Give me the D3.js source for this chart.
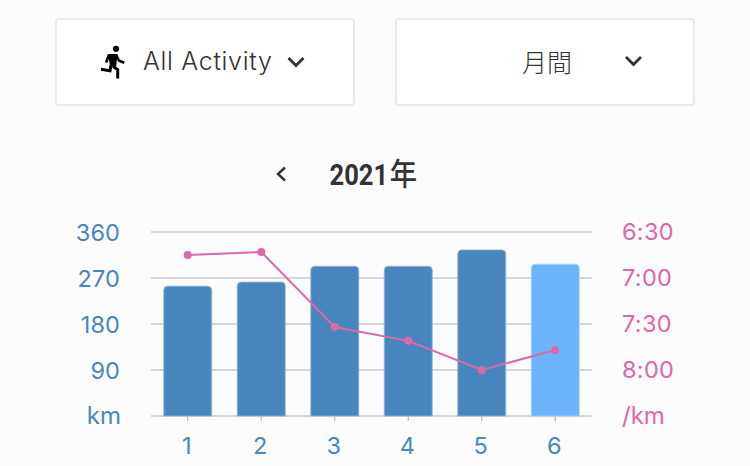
<!DOCTYPE html>
<html><head><meta charset="utf-8">
<script src="https://cdn.jsdelivr.net/npm/d3@7"></script>
<style>
html,body{margin:0;padding:0;background:#fcfcfc;overflow:hidden}
svg{display:block}
text{font-family:Inter,"Noto Sans CJK JP",sans-serif}
</style></head><body>
<svg id="c" width="750" height="466"></svg>
<script>
const months = ["1","2","3","4","5","6"];
const distance = [254, 262, 293, 293, 325, 297];
const pace = ["6:45","6:43","7:32","7:41","8:00","7:47"];
const distanceTicks = [90,180,270,360];
const paceTicks = ["6:30","7:00","7:30","8:00"];
const highlightMonth = "6";
const yearLabel = "2021";
const yearSuffix = "年";
const activityLabel = "All Activity";
const periodLabel = "月間";
const distanceUnit = "km";
const paceUnit = "/km";

const toSec = s => { const [m,x] = s.split(":").map(Number); return m*60+x; };
const svg = d3.select("#c");
const BLUE="#4886bf", LIGHT="#6cb4fa", PINK="#de66aa", DARK="#333333";

// dropdown buttons
function button(x,w){
  svg.append("rect").attr("x",x).attr("y",19).attr("width",w).attr("height",86)
    .attr("rx",3).attr("fill","#fff").attr("stroke","#ebebeb").attr("stroke-width",2);
}
function chevron(cx,cy){
  svg.append("path").attr("d",`M${cx-7.5},${cy-4}L${cx},${cy+3.5}L${cx+7.5},${cy-4}`)
    .attr("fill","none").attr("stroke",DARK).attr("stroke-width",2.8);
}
button(56,298); button(396,298);
chevron(296,62); chevron(633.5,61);
svg.append("text").attr("x",143).attr("y",70).attr("font-size",25).attr("letter-spacing",0.7)
  .attr("fill",DARK).attr("font-weight",300).text(activityLabel);
svg.append("text").attr("x",522).attr("y",72).attr("font-size",25)
  .attr("fill",DARK).attr("font-weight",300).attr("style",'font-family:"Noto Sans CJK JP"').text(periodLabel);

// runner icon
const run = svg.append("g");
run.append("circle").attr("cx",116).attr("cy",48.8).attr("r",3.1).attr("fill","#000");
run.append("path").attr("fill","#000").attr("d","M108,54L117.5,54L116,68L110,66Z");
run.append("path").attr("fill","none").attr("stroke","#000").attr("stroke-width",2.6)
  .attr("d","M108.8,55L106.2,62.5");
run.append("path").attr("fill","none").attr("stroke","#000").attr("stroke-width",2.6)
  .attr("d","M116.2,55L119,60.7L124.3,62.7");
run.append("path").attr("fill","none").attr("stroke","#000").attr("stroke-width",3)
  .attr("d","M111,65L110,70.8L101,69.3");
run.append("path").attr("fill","none").attr("stroke","#000").attr("stroke-width",3)
  .attr("d","M113,66.5L117.7,69.5L117.7,78.5");

// title row
svg.append("path").attr("d","M285,167.5L278,174L285,180.5").attr("fill","none").attr("stroke",DARK).attr("stroke-width",2.4);
const t = svg.append("text").attr("transform","translate(329.5,185) scale(0.88,1)")
  .attr("font-size",29).attr("font-weight",700).attr("fill",DARK);
t.append("tspan").attr("style","font-family:Roboto").text(yearLabel);
t.append("tspan").attr("dx",2).attr("style",'font-family:"Noto Sans CJK JP"').attr("font-weight",500).attr("font-size",31).text(yearSuffix);

// scales
const x = d3.scaleBand().domain(months).range([151,592]).paddingInner(0.347).paddingOuter(0.1735);
const yD = d3.scaleLinear().domain([0,360]).range([416,232]);
const yP = d3.scaleLinear().domain([toSec("6:30"),toSec("8:30")]).range([232,416]);
const cx = m => x(m)+x.bandwidth()/2;

// grid
svg.append("g").selectAll("line").data([0,...distanceTicks]).join("line")
  .attr("x1",151).attr("x2",592).attr("y1",d=>yD(d)).attr("y2",d=>yD(d))
  .attr("stroke","#d6d6d6").attr("stroke-width",2);

// left axis
const aL = d3.axisLeft(yD).tickValues(distanceTicks).tickSize(0).tickPadding(0);
const gL = svg.append("g").attr("transform","translate(120,0)").call(aL);
gL.select(".domain").remove();
gL.selectAll("text").attr("font-size",23.5).attr("fill",BLUE).attr("font-weight",400)
  .style("font-family","Inter").attr("dy","0.36em").attr("letter-spacing",0.1);
svg.append("text").attr("x",121).attr("y",424).attr("text-anchor","end").attr("font-size",24)
  .attr("fill",BLUE).attr("font-weight",400).text(distanceUnit);

// right axis
const aR = d3.axisRight(yP).tickValues(paceTicks.map(toSec)).tickSize(0).tickPadding(0)
  .tickFormat((d,i)=>paceTicks[i]);
const gR = svg.append("g").attr("transform","translate(622,0)").call(aR);
gR.select(".domain").remove();
gR.selectAll("text").attr("font-size",23.5).attr("fill",PINK).attr("font-weight",400)
  .style("font-family","Inter").attr("dy","0.33em").attr("letter-spacing",0.3);
svg.append("text").attr("x",622).attr("y",424).attr("font-size",24)
  .attr("fill",PINK).attr("font-weight",400).text(paceUnit);

// bars
const rad=4;
svg.append("g").selectAll("path").data(months).join("path")
  .attr("d",(m,i)=>{
    const l=x(m), r=l+x.bandwidth(), t=yD(distance[i]), b=yD(0);
    return `M${l},${b}V${t+rad}Q${l},${t} ${l+rad},${t}H${r-rad}Q${r},${t} ${r},${t+rad}V${b}Z`;
  })
  .attr("fill",m=>m===highlightMonth?LIGHT:BLUE)
  .attr("stroke",m=>m===highlightMonth?"#a6d2fc":"#8fb5d8").attr("stroke-width",0.8);

// bottom axis
const aB = d3.axisBottom(x).tickSize(5).tickPadding(0);
const gB = svg.append("g").attr("transform","translate(0,416)").call(aB);
gB.select(".domain").remove();
gB.selectAll("line").attr("stroke","#aaaaaa").attr("stroke-width",1);
gB.selectAll("text").attr("font-size",23.5).attr("fill",BLUE).attr("font-weight",400)
  .style("font-family","Inter").attr("dy",0).attr("y",38).attr("dx",-1);

// pace line
const line = d3.line().x(d=>cx(d.m)).y(d=>yP(toSec(d.p)));
const pts = months.map((m,i)=>({m,p:pace[i]}));
svg.append("path").datum(pts).attr("d",line).attr("fill","none").attr("stroke",PINK).attr("stroke-width",2);
svg.append("g").selectAll("circle").data(pts).join("circle")
  .attr("cx",d=>cx(d.m)).attr("cy",d=>yP(toSec(d.p))).attr("r",4).attr("fill",PINK);
</script>
</body></html>
